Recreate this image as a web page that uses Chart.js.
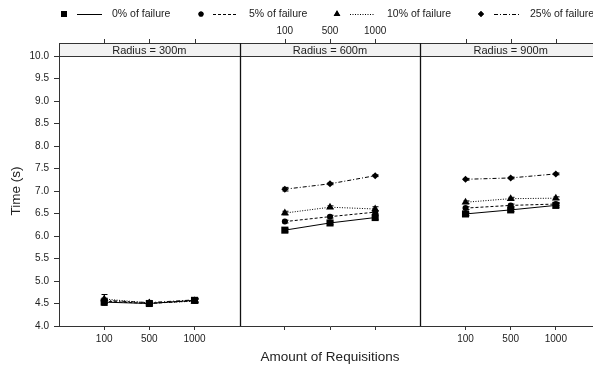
<!DOCTYPE html>
<html>
<head>
<meta charset="utf-8">
<script src="https://cdn.jsdelivr.net/npm/chart.js@4"></script>
<style>
  html, body { margin: 0; padding: 0; background: #fff; overflow: hidden; }
  canvas { display: block; }
</style>
</head>
<body>
<!-- wider than the window: the last panel runs past the edge, as in the original figure -->
<canvas id="timeChart" width="606" height="366"></canvas>
<script>
// Data
const requisitions = ['100', '500', '1000'];
const radii = ['Radius = 300m', 'Radius = 600m', 'Radius = 900m'];
const seriesNames = ['0% of failure', '5% of failure', '10% of failure', '25% of failure'];

// mean time (s), per radius panel: 300m, 600m, 900m x (100, 500, 1000)
const fail0 = [4.53, 4.50, 4.57, 6.13, 6.29, 6.41, 6.49, 6.58, 6.68];
const fail5 = [4.55, 4.50, 4.56, 6.32, 6.43, 6.53, 6.62, 6.68, 6.71];
const fail10 = [4.60, 4.51, 4.55, 6.51, 6.64, 6.60, 6.75, 6.83, 6.84];
const fail25 = [4.57, 4.52, 4.58, 7.04, 7.16, 7.34, 7.26, 7.29, 7.38];

// half width of the error bars
const err0 = [0.07, 0.03, 0.04, 0.04, 0.04, 0.04, 0.04, 0.04, 0.04];
const err5 = [0.05, 0.03, 0.04, 0.03, 0.03, 0.03, 0.03, 0.03, 0.03];
const err10 = [0.10, 0.03, 0.04, 0.04, 0.03, 0.05, 0.03, 0.03, 0.03];
const err25 = [0.05, 0.03, 0.04, 0.04, 0.02, 0.02, 0.02, 0.02, 0.02];

const yTicksMin = 4.0;
const yTicksMax = 10.0;

const TEXT = '#222';
const LINE = '#333';

// each panel spans 4 units on the x scale, categories sit at 1,2,3 inside it
function toPoints(values) {
    const pts = [];
    for (let p = 0; p < radii.length; p++) {
        for (let i = 0; i < requisitions.length; i++) {
            pts.push({ x: p * 4 + i + 1, y: values[p * 3 + i] });
        }
        if (p < radii.length - 1) pts.push({ x: p * 4 + 4, y: null });
    }
    return pts;
}

const styles = [
    { pointStyle: 'rect', radius: 5, dash: [] },
    { pointStyle: 'circle', radius: 3, dash: [3, 2] },
    { pointStyle: 'triangle', radius: 4.5, dash: [1, 1.5] },
    { pointStyle: 'rectRot', radius: 3.5, dash: [4, 2, 1, 2] }
];
const allValues = [fail0, fail5, fail10, fail25];
const allErrors = [err0, err5, err10, err25];

const datasets = seriesNames.map(function (name, k) {
    return {
        label: name,
        data: toPoints(allValues[k]),
        errors: toPoints(allErrors[k]),
        borderColor: '#000',
        backgroundColor: '#000',
        borderWidth: 1,
        borderDash: styles[k].dash,
        pointStyle: styles[k].pointStyle,
        pointRadius: styles[k].radius,
        pointBorderWidth: 0,
        spanGaps: false,
        tension: 0
    };
});

const tickPositions = [1, 2, 3, 5, 6, 7, 9, 10, 11];

function panelLabel(v, panelWanted) {
    const panel = Math.floor(v / 4);
    if (panelWanted.indexOf(panel) < 0) return '';
    return requisitions[Math.round(v - panel * 4) - 1];
}

// error bars, strips, panel borders, top axis, legend and axis titles
const latticeDecor = {
    id: 'latticeDecor',
    beforeDatasetsDraw(chart) {
        const ctx = chart.ctx;
        const xs = chart.scales.x;
        const ca = chart.chartArea;
        ctx.save();
        ctx.fillStyle = '#f2f2f2';
        for (let p = 0; p < radii.length; p++) {
            const l = xs.getPixelForValue(p * 4);
            const r = xs.getPixelForValue(p * 4 + 4);
            ctx.fillRect(l, ca.top - 13, r - l, 13);
        }
        ctx.restore();
    },
    afterDatasetsDraw(chart) {
        const ctx = chart.ctx;
        const xs = chart.scales.x;
        const ys = chart.scales.y;
        const ca = chart.chartArea;
        ctx.save();

        // error bars
        ctx.strokeStyle = '#000';
        ctx.lineWidth = 1;
        chart.data.datasets.forEach(function (ds) {
            ds.data.forEach(function (pt, i) {
                if (pt.y === null) return;
                const e = ds.errors[i].y;
                const px = Math.round(xs.getPixelForValue(pt.x)) + 0.5;
                const y1 = ys.getPixelForValue(pt.y - e);
                const y2 = ys.getPixelForValue(pt.y + e);
                ctx.beginPath();
                ctx.moveTo(px, y1); ctx.lineTo(px, y2);
                ctx.moveTo(px - 3, y1); ctx.lineTo(px + 3, y1);
                ctx.moveTo(px - 3, y2); ctx.lineTo(px + 3, y2);
                ctx.stroke();
            });
        });

        // strips and panel frames
        const stripTop = ca.top - 13;
        ctx.strokeStyle = LINE;
        ctx.lineWidth = 1;
        ctx.font = '11px "Liberation Sans", Arial, sans-serif';
        ctx.fillStyle = TEXT;
        ctx.textAlign = 'center';
        ctx.textBaseline = 'middle';
        for (let p = 0; p < radii.length; p++) {
            const l = xs.getPixelForValue(p * 4);
            const r = xs.getPixelForValue(p * 4 + 4);
            ctx.fillText(radii[p], (l + r) / 2, stripTop + 7.5);
        }
        ctx.beginPath();
        ctx.moveTo(ca.left, Math.round(stripTop) + 0.5);
        ctx.lineTo(ca.right, Math.round(stripTop) + 0.5);
        ctx.moveTo(ca.left, Math.round(ca.top) + 0.5);
        ctx.lineTo(ca.right, Math.round(ca.top) + 0.5);
        ctx.moveTo(Math.round(ca.left) + 0.5, stripTop);
        ctx.lineTo(Math.round(ca.left) + 0.5, ca.bottom);
        ctx.stroke();

        ctx.strokeStyle = '#111';
        ctx.lineWidth = 1.3;
        ctx.beginPath();
        [4, 8].forEach(function (v) {
            const px = Math.round(xs.getPixelForValue(v)) + 0.5;
            ctx.moveTo(px, stripTop);
            ctx.lineTo(px, ca.bottom);
        });
        ctx.stroke();

        // top axis: ticks on every panel, labels only on the middle one
        ctx.strokeStyle = LINE;
        ctx.lineWidth = 1;
        ctx.beginPath();
        tickPositions.forEach(function (v) {
            const px = Math.round(xs.getPixelForValue(v)) + 0.5;
            ctx.moveTo(px, stripTop);
            ctx.lineTo(px, stripTop - 4);
        });
        ctx.stroke();
        ctx.font = '10px "Liberation Sans", Arial, sans-serif';
        tickPositions.forEach(function (v) {
            const lab = panelLabel(v, [1]);
            if (lab) ctx.fillText(lab, xs.getPixelForValue(v), stripTop - 12);
        });

        // axis titles
        ctx.font = '13.5px "Liberation Sans", Arial, sans-serif';
        ctx.fillText('Amount of Requisitions', (ca.left + xs.getPixelForValue(12)) / 2, 357);
        ctx.save();
        ctx.translate(16, (ca.top + ca.bottom) / 2);
        ctx.rotate(-Math.PI / 2);
        ctx.fillText('Time (s)', 0, 0);
        ctx.restore();

        // legend
        const legendX = [[64, 77, 112], [201, 213, 249], [337, 350, 387], [481, 494, 530]];
        const ly = 14;
        ctx.font = '10.5px "Liberation Sans", Arial, sans-serif';
        ctx.textAlign = 'left';
        chart.data.datasets.forEach(function (ds, k) {
            const pos = legendX[k];
            ctx.fillStyle = '#000';
            Chart.helpers.drawPoint(ctx, {
                pointStyle: ds.pointStyle,
                radius: ds.pointRadius * 0.85,
                borderWidth: 0
            }, pos[0], ly);
            ctx.fill();
            ctx.strokeStyle = '#000';
            ctx.lineWidth = 1;
            ctx.setLineDash(ds.borderDash);
            ctx.beginPath();
            ctx.moveTo(pos[1], ly + 0.5);
            ctx.lineTo(pos[1] + 25, ly + 0.5);
            ctx.stroke();
            ctx.setLineDash([]);
            ctx.fillStyle = TEXT;
            ctx.fillText(ds.label, pos[2], ly);
        });

        ctx.restore();
    }
};

Chart.defaults.font.family = '"Liberation Sans", Arial, sans-serif';
Chart.defaults.font.size = 10;
Chart.defaults.color = TEXT;

const ctxTime = document.getElementById('timeChart').getContext('2d');

new Chart(ctxTime, {
    type: 'line',
    data: { datasets: datasets },
    options: {
        responsive: false,
        animation: false,
        layout: { padding: { top: 56, left: 0, right: 0, bottom: 0 } },
        scales: {
            x: {
                type: 'linear',
                min: 0,
                max: 12,
                afterBuildTicks: function (scale) {
                    scale.ticks = tickPositions.map(function (v) { return { value: v }; });
                },
                afterFit: function (scale) { scale.height = 40; },
                ticks: {
                    autoSkip: false,
                    maxRotation: 0,
                    padding: 3,
                    color: TEXT,
                    callback: function (v) { return panelLabel(v, [0, 2]); }
                },
                grid: { drawOnChartArea: false, tickLength: 4, color: LINE },
                border: { color: LINE }
            },
            y: {
                min: yTicksMin,
                max: yTicksMax,
                afterFit: function (scale) { scale.width = 59; },
                ticks: {
                    stepSize: 0.5,
                    padding: 5,
                    color: TEXT,
                    callback: function (v) { return v.toFixed(1); }
                },
                grid: { drawOnChartArea: false, tickLength: 5, color: LINE },
                border: { color: LINE }
            }
        },
        plugins: {
            legend: { display: false },
            tooltip: { enabled: false }
        }
    },
    plugins: [latticeDecor]
});
</script>
</body>
</html>
